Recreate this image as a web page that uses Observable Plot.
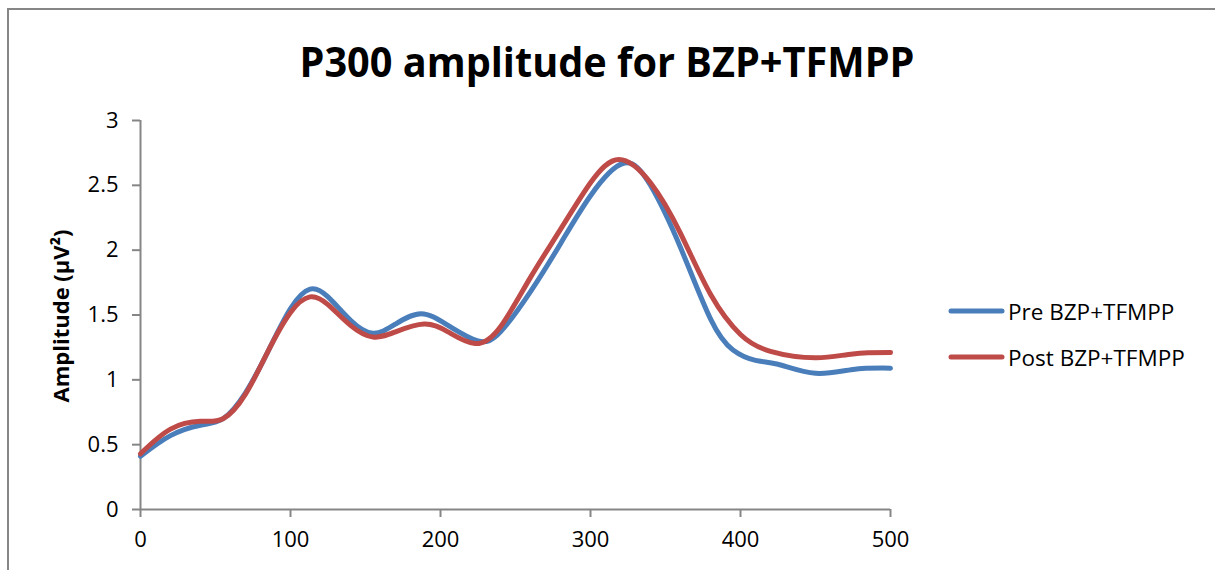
<!DOCTYPE html>
<html>
<head>
<meta charset="utf-8">
<script src="https://cdn.jsdelivr.net/npm/d3@7"></script>
<script src="https://cdn.jsdelivr.net/npm/@observablehq/plot@0.6"></script>
<style>
  html, body { margin: 0; padding: 0; background: #fff; }
  #wrap { position: relative; width: 1215px; height: 570px; overflow: hidden; font-family: "Open Sans", sans-serif; }
  .bl { position: absolute; left: 7px; top: 8px; width: 2px; height: 562px; background: #868686; }
  .bt { position: absolute; left: 7px; top: 8px; width: 1208px; height: 2px; background: #868686; }
  #title { position: absolute; left: 0; top: 0; }
  #plot { position: absolute; left: 0; top: 100px; }
  #ylabel { position: absolute; left: 60px; top: 316px; transform: translate(-50%, -50%) rotate(-90deg); font-weight: 700; font-size: 22px; white-space: nowrap; color: #000; }
  #legend { position: absolute; left: 946px; top: 288px; font-size: 22.5px; color: #000; }
  .item { display: flex; align-items: center; height: 46px; }
  .item svg { margin-right: 2px; }
</style>
</head>
<body>
<div id="wrap">
  <div class="bl"></div><div class="bt"></div>
  <svg id="title" width="1215" height="100">
    <text x="607" y="77" text-anchor="middle" font-family="Open Sans, sans-serif" font-weight="700" font-size="42" textLength="615" lengthAdjust="spacingAndGlyphs">P300 amplitude for BZP+TFMPP</text>
  </svg>
  <div id="plot"></div>
  <div id="ylabel">Amplitude (µV²)</div>
  <div id="legend"></div>
</div>
<script>
const seriesNames = ["Pre BZP+TFMPP", "Post BZP+TFMPP"];
const seriesColors = ["#4a7ebb", "#be4b48"];

const preTime = [0, 20, 40, 55, 70, 85, 100, 113, 125, 140, 155, 170, 187, 205, 225, 240, 260, 280, 300, 322, 340, 360, 380, 395, 410, 425, 450, 475, 500];
const preAmp  = [0.41, 0.57, 0.65, 0.70, 0.90, 1.22, 1.55, 1.70, 1.64, 1.46, 1.36, 1.43, 1.51, 1.42, 1.30, 1.37, 1.68, 2.05, 2.42, 2.67, 2.50, 2.02, 1.47, 1.23, 1.15, 1.12, 1.05, 1.08, 1.09];

const postTime = [0, 20, 40, 55, 70, 85, 100, 113, 125, 140, 155, 170, 189, 205, 223, 240, 260, 280, 300, 319, 340, 360, 380, 400, 420, 450, 475, 500];
const postAmp  = [0.43, 0.62, 0.68, 0.70, 0.89, 1.22, 1.52, 1.64, 1.58, 1.42, 1.33, 1.37, 1.43, 1.37, 1.28, 1.41, 1.79, 2.16, 2.52, 2.70, 2.52, 2.13, 1.66, 1.35, 1.22, 1.17, 1.20, 1.21];

const xTicks = [0, 100, 200, 300, 400, 500];
const yTicks = [0, 0.5, 1, 1.5, 2, 2.5, 3];

const data = [
  ...preTime.map((t, i) => ({t, v: preAmp[i], s: seriesNames[0]})),
  ...postTime.map((t, i) => ({t, v: postAmp[i], s: seriesNames[1]}))
];

const axisGray = "#868686";

const chart = Plot.plot({
  width: 1215,
  height: 470,
  marginTop: 20,
  marginBottom: 61,
  marginLeft: 140,
  marginRight: 325,
  style: { fontFamily: "Open Sans, sans-serif", fontSize: "22px", color: "#000", background: "transparent" },
  x: { domain: [0, 500], label: null },
  y: { domain: [0, 3], label: null },
  color: { domain: seriesNames, range: seriesColors },
  marks: [
    Plot.ruleX([0], { stroke: axisGray, strokeWidth: 2 }),
    Plot.ruleY([0], { stroke: axisGray, strokeWidth: 2 }),
    Plot.axisY({ ticks: yTicks, tickSize: 8, tickPadding: 14, stroke: axisGray, strokeWidth: 2, fill: "#000", fontSize: 22, tickFormat: d => String(d), label: null }),
    Plot.axisX({ ticks: xTicks, tickSize: 8, tickPadding: 14, stroke: axisGray, strokeWidth: 2, fill: "#000", fontSize: 22, tickFormat: d => String(d), label: null }),
    Plot.line(data, { x: "t", y: "v", z: "s", stroke: "s", strokeWidth: 5, curve: "natural", strokeLinecap: "round", strokeLinejoin: "round" })
  ]
});
d3.select(chart).selectAll("text").style("font-size", "22px").attr("font-size", 22);
document.getElementById("plot").appendChild(chart);

const legend = document.getElementById("legend");
seriesNames.forEach((n, i) => {
  const d = document.createElement("div");
  d.className = "item";
  d.innerHTML = `<svg width="60" height="10"><line x1="5" y1="5" x2="56" y2="5" stroke="${seriesColors[i]}" stroke-width="5" stroke-linecap="round"/></svg><span>${n}</span>`;
  legend.appendChild(d);
});
</script>
</body>
</html>
